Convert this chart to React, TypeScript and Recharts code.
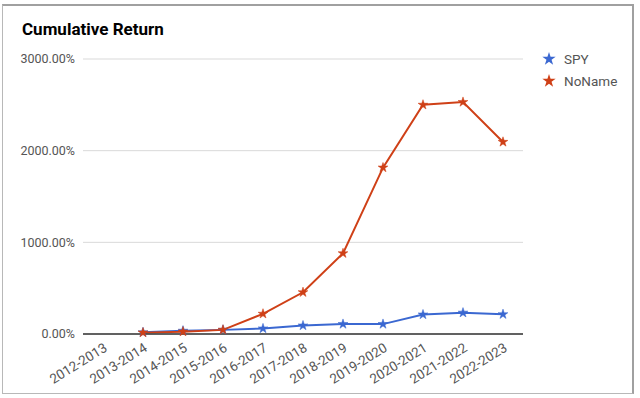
import React from "react"
import { LineChart, Line, XAxis, YAxis, CartesianGrid, Symbols } from "recharts"

const periods = [
  "2012-2013",
  "2013-2014",
  "2014-2015",
  "2015-2016",
  "2016-2017",
  "2017-2018",
  "2018-2019",
  "2019-2020",
  "2020-2021",
  "2021-2022",
  "2022-2023",
]

const spy = [null, 18, 35, 45, 60, 92, 108, 108, 212, 232, 215]
const noName = [null, 15, 25, 45, 220, 455, 880, 1815, 2500, 2530, 2095]

const yTicks = [0, 1000, 2000, 3000]

const data = periods.map((period, i) => ({
  period,
  SPY: spy[i],
  NoName: noName[i],
}))

const BLUE = "#3b68d1"
const RED = "#cf4017"

const series = [
  { key: "SPY", color: BLUE },
  { key: "NoName", color: RED },
]

const starDot = (color: string) => (props: any) => {
  const { cx, cy, index } = props
  if (cx == null || cy == null || props.value == null) return <g key={index} />
  return <Symbols key={index} cx={cx} cy={cy} type="star" size={30} fill={color} stroke={color} strokeWidth={0.5} />
}

function ChartLegend() {
  return (
    <div style={{ position: "absolute", left: 542, top: 48 }}>
      {series.map((s) => (
        <div key={s.key} style={{ display: "flex", alignItems: "center", height: 22 }}>
          <svg width={14} height={14} style={{ marginRight: 8 }}>
            <Symbols cx={7} cy={7} type="star" size={55} fill={s.color} />
          </svg>
          <span style={{ fontSize: 13.5, color: "#555" }}>{s.key}</span>
        </div>
      ))}
    </div>
  )
}

export default function App() {
  return (
    <div
      style={{
        position: "absolute",
        left: 0,
        top: 0,
        width: 640,
        height: 398,
        background: "#fff",
        fontFamily: "Roboto, sans-serif",
      }}
    >
      {/* chart frame */}
      <div
        style={{
          position: "absolute",
          left: 2,
          top: 4,
          width: 632,
          height: 390,
          borderTop: "2px solid #a0a0a0",
          borderRight: "2px solid #a0a0a0",
          borderLeft: "1px solid #b8b8b8",
          borderBottom: "1px solid #b8b8b8",
          boxSizing: "border-box",
        }}
      />
      <div
        style={{
          position: "absolute",
          left: 22,
          top: 19,
          fontSize: 17,
          fontWeight: 700,
          color: "#000",
        }}
      >
        Cumulative Return
      </div>
      <ChartLegend />
      <LineChart
        width={640}
        height={398}
        data={data}
        margin={{ top: 59, right: 117, bottom: 0, left: 0 }}
        style={{ position: "absolute", left: 0, top: 0 }}
      >
        <CartesianGrid vertical={false} stroke="#d9d9d9" />
        <XAxis
          dataKey="period"
          height={64}
          padding={{ left: 20, right: 20 }}
          interval={0}
          angle={-32}
          textAnchor="end"
          tickLine={false}
          axisLine={{ stroke: "#333", strokeWidth: 1.5 }}
          tick={{ fill: "#555", fontSize: 13.5 }}
        />
        <YAxis
          width={83}
          domain={[0, 3000]}
          ticks={yTicks}
          tickLine={false}
          axisLine={false}
          tick={{ fill: "#555", fontSize: 12.5 }}
          tickFormatter={(v) => `${v.toFixed(2)}%`}
        />
        <Line
          dataKey="SPY"
          stroke={BLUE}
          strokeWidth={2}
          dot={starDot(BLUE)}
          activeDot={false}
          isAnimationActive={false}
        />
        <Line
          dataKey="NoName"
          stroke={RED}
          strokeWidth={2}
          dot={starDot(RED)}
          activeDot={false}
          isAnimationActive={false}
        />
      </LineChart>
    </div>
  )
}
